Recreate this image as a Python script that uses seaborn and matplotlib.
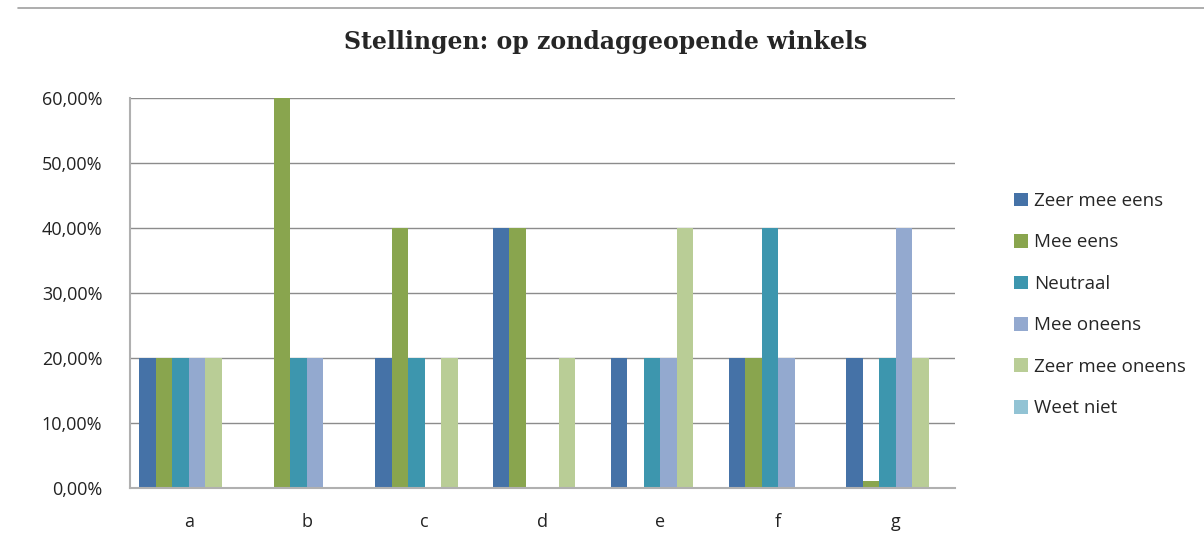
import matplotlib.pyplot as plt
import seaborn as sns
import pandas as pd
from matplotlib.ticker import FuncFormatter
from matplotlib.lines import Line2D

# Data (percentages)
stellingen = ['a', 'b', 'c', 'd', 'e', 'f', 'g']
antwoorden = ['Zeer mee eens', 'Mee eens', 'Neutraal', 'Mee oneens',
              'Zeer mee oneens', 'Weet niet']
zeer_mee_eens = [20, 0, 20, 40, 20, 20, 20]
mee_eens = [20, 60, 40, 40, 0, 20, 1]
neutraal = [20, 20, 20, 0, 20, 40, 20]
mee_oneens = [20, 20, 0, 0, 20, 20, 40]
zeer_mee_oneens = [20, 0, 20, 20, 40, 0, 20]
weet_niet = [0, 0, 0, 0, 0, 0, 0]

kleuren = ['#4572A7', '#89A54E', '#3D96AE', '#93A9CF', '#B9CD96', '#92C3D4']

series = [zeer_mee_eens, mee_eens, neutraal, mee_oneens, zeer_mee_oneens, weet_niet]
rows = []
for naam, waarden in zip(antwoorden, series):
    for s, v in zip(stellingen, waarden):
        rows.append({'stelling': s, 'antwoord': naam, 'pct': v})
df = pd.DataFrame(rows)

sns.set_style('white')
plt.rcParams['font.family'] = ['Open Sans', 'DejaVu Sans']

fig = plt.figure(figsize=(12.04, 5.44), dpi=100)
ax = fig.add_axes([0.108, 0.103, 0.685, 0.717])

sns.barplot(data=df, x='stelling', y='pct', hue='antwoord', hue_order=antwoorden,
            palette=kleuren, width=0.84, saturation=1, linewidth=0, ax=ax, legend=True)

ax.set_ylim(0, 60)
ax.set_yticks(range(0, 61, 10))
ax.yaxis.set_major_formatter(FuncFormatter(lambda v, p: f'{v:.2f}%'.replace('.', ',')))
ax.grid(axis='y', color='#8c8c8c', linewidth=1.0)
ax.set_axisbelow(True)
ax.set_xlabel('')
ax.set_ylabel('')
ax.tick_params(axis='both', labelsize=13, colors='#222222', length=0)
ax.tick_params(axis='y', pad=20)
ax.tick_params(axis='x', pad=18)
for side in ['top', 'right']:
    ax.spines[side].set_visible(False)
for side in ['left', 'bottom']:
    ax.spines[side].set_color('#b0b0b0')
    ax.spines[side].set_linewidth(1.5)

handles, labels = ax.get_legend_handles_labels()
ax.get_legend().remove()
fig.legend(handles, labels, loc='center left', bbox_to_anchor=(0.828, 0.44),
           frameon=False, fontsize=13.5, labelspacing=1.25, handlelength=0.75,
           handleheight=0.75, handletextpad=0.35)

fig.text(0.503, 0.922, 'Stellingen: op zondaggeopende winkels', ha='center', va='center',
         fontsize=17, fontweight='bold', family=['DejaVu Serif'])

# thin grey border line along the top of the sheet
fig.add_artist(Line2D([0.015, 1.0], [0.985, 0.985], color='#a0a0a0', linewidth=1.2))

fig.savefig('out.png', dpi=100)
